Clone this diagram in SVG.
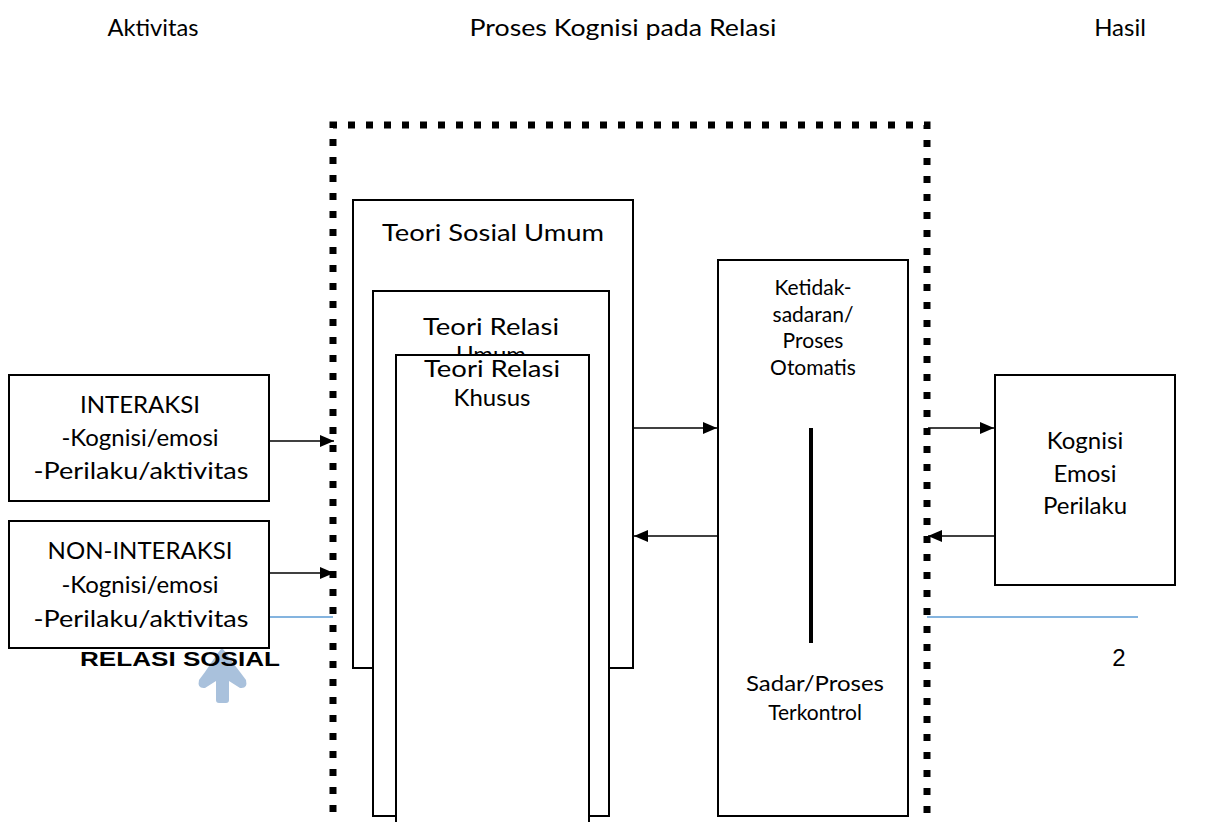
<svg xmlns="http://www.w3.org/2000/svg" width="1206" height="822" viewBox="0 0 1206 822">
<style>
.t{font-family:Lato,"Open Sans",sans-serif;font-size:24px;fill:#000;text-anchor:middle}
.s{font-size:21px}
.box{fill:#fff;stroke:#000;stroke-width:2}
.con{stroke:#000;stroke-width:1.6;fill:none;marker-end:url(#ah)}
.blue{stroke:#5B9BD5;stroke-width:1.6}
</style>
<defs>
<marker id="ah" viewBox="0 0 14 12" refX="14" refY="6" markerWidth="14" markerHeight="12" markerUnits="userSpaceOnUse" orient="auto">
<path d="M0,0 L14,6 L0,12 Z" fill="#000"/>
</marker>
</defs>
<rect width="1206" height="822" fill="#fff"/>

<g id="headers">
<text class="t" x="153" y="36" textLength="91" lengthAdjust="spacingAndGlyphs">Aktivitas</text>
<text class="t" x="623" y="36" textLength="307" lengthAdjust="spacingAndGlyphs">Proses Kognisi pada Relasi</text>
<text class="t" x="1120" y="36">Hasil</text>
</g>

<g id="background">
<line class="blue" x1="270" y1="617" x2="333" y2="617"/>
<line class="blue" x1="927" y1="617" x2="1138" y2="617"/>
<path d="M222,648 C226,652 232,662 240,672 L246,680 Q248,689 240,688 L229,681 L229,700 Q229,703 226,703 L219,703 Q216,703 216,700 L216,681 L205,688 Q197,689 199,680 L205,672 C212,662 218,652 222,648 Z" fill="#A9C1DC"/>
<text x="80" y="666" textLength="200" lengthAdjust="spacingAndGlyphs" style="font-family:'Liberation Sans',Arial,sans-serif;font-weight:bold;font-size:20px;fill:#000">RELASI SOSIAL</text>
<text x="1119" y="666" style="font-family:'Liberation Sans',Arial,sans-serif;font-size:24px;fill:#000;text-anchor:middle">2</text>
</g>

<g id="proses-frame">
<path d="M333,830 V125 H927 V830" fill="none" stroke="#000" stroke-width="7" stroke-dasharray="7 11"/>
</g>

<g id="teori-sosial-umum">
<rect class="box" x="353" y="200" width="280" height="468"/>
<text class="t" x="493" y="241" textLength="222" lengthAdjust="spacingAndGlyphs">Teori Sosial Umum</text>
</g>

<g id="teori-relasi-umum">
<rect class="box" x="373" y="291" width="236" height="525"/>
<text class="t" x="491" y="335" textLength="136" lengthAdjust="spacingAndGlyphs">Teori Relasi</text>
<text class="t" x="491" y="363">Umum</text>
</g>

<g id="teori-relasi-khusus">
<rect class="box" x="396" y="355" width="193" height="480"/>
<text class="t" x="492" y="377" textLength="136" lengthAdjust="spacingAndGlyphs">Teori Relasi</text>
<text class="t" x="492" y="406">Khusus</text>
</g>

<g id="proses-kesadaran">
<rect class="box" x="718" y="260" width="190" height="556"/>
<text class="t s" x="813" y="295">Ketidak-</text>
<text class="t s" x="813" y="322">sadaran/</text>
<text class="t s" x="813" y="348">Proses</text>
<text class="t s" x="813" y="375">Otomatis</text>
<line x1="811" y1="428" x2="811" y2="643" stroke="#000" stroke-width="4"/>
<text class="t s" x="815" y="691" textLength="138" lengthAdjust="spacingAndGlyphs">Sadar/Proses</text>
<text class="t s" x="815" y="720">Terkontrol</text>
</g>

<g id="interaksi">
<rect class="box" x="9" y="375" width="260" height="126"/>
<text class="t" x="140" y="413">INTERAKSI</text>
<text class="t" x="140" y="446">-Kognisi/emosi</text>
<text class="t" x="141" y="479" textLength="215" lengthAdjust="spacingAndGlyphs">-Perilaku/aktivitas</text>
</g>

<g id="non-interaksi">
<rect class="box" x="9" y="521" width="260" height="127"/>
<text class="t" x="140" y="559">NON-INTERAKSI</text>
<text class="t" x="140" y="593">-Kognisi/emosi</text>
<text class="t" x="141" y="627" textLength="215" lengthAdjust="spacingAndGlyphs">-Perilaku/aktivitas</text>
</g>

<g id="hasil">
<rect class="box" x="995" y="375" width="180" height="210"/>
<text class="t" x="1085" y="449">Kognisi</text>
<text class="t" x="1085" y="482">Emosi</text>
<text class="t" x="1085" y="514">Perilaku</text>
</g>

<g id="connectors">
<line class="con" x1="270" y1="441" x2="334" y2="441"/>
<line class="con" x1="270" y1="573" x2="334" y2="573"/>
<line class="con" x1="634" y1="428" x2="717" y2="428"/>
<line class="con" x1="717" y1="536" x2="634" y2="536"/>
<line class="con" x1="928" y1="428" x2="994" y2="428"/>
<line class="con" x1="994" y1="536" x2="928" y2="536"/>
</g>
</svg>
